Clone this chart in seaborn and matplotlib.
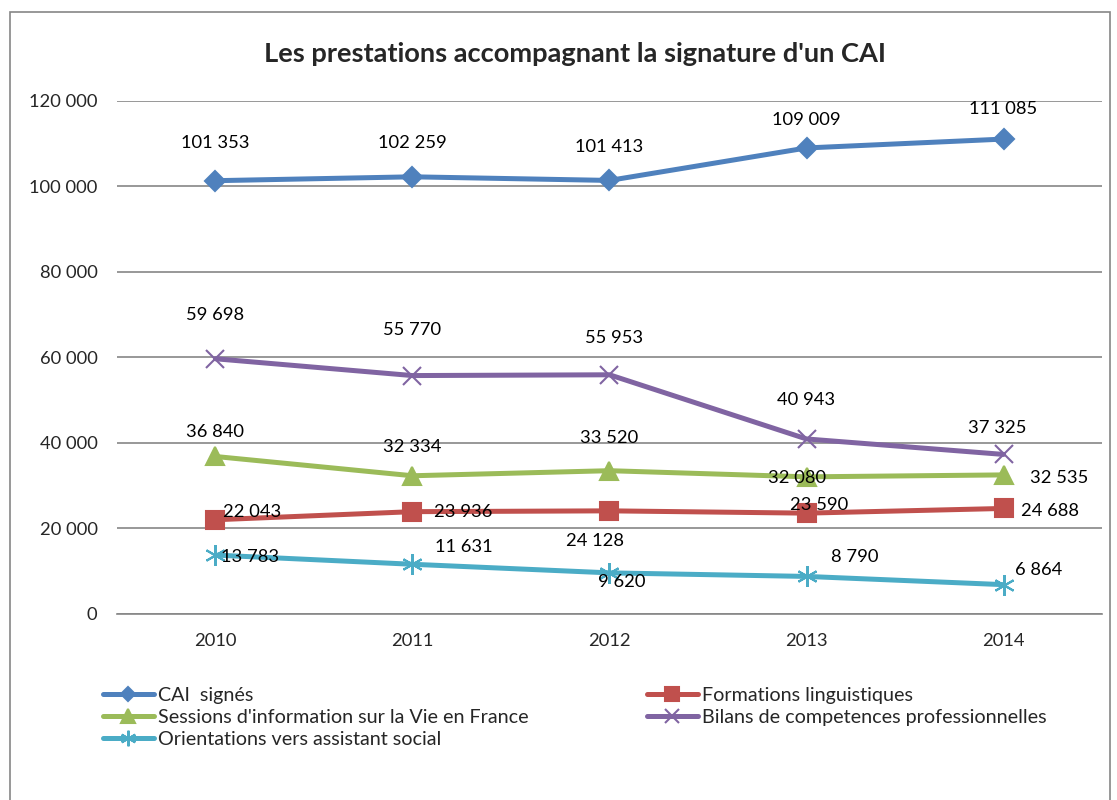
import matplotlib
matplotlib.use("Agg")
import matplotlib.pyplot as plt
import matplotlib.patches as mpatches
import pandas as pd
import seaborn as sns

years = ["2010", "2011", "2012", "2013", "2014"]
series_names = [
    "CAI  signés",
    "Formations linguistiques",
    "Sessions d'information sur la Vie en France",
    "Bilans de competences professionnelles",
    "Orientations vers assistant social",
]
cai_signes = [101353, 102259, 101413, 109009, 111085]
formations = [22043, 23936, 24128, 23590, 24688]
sessions = [36840, 32334, 33520, 32080, 32535]
bilans = [59698, 55770, 55953, 40943, 37325]
orientations = [13783, 11631, 9620, 8790, 6864]
all_values = [cai_signes, formations, sessions, bilans, orientations]

colors = ["#4F81BD", "#C0504D", "#9BBB59", "#8064A2", "#4BACC6"]
markers = ["D", "s", "^", "x", (6, 2, 0)]
marker_sizes = [10, 13, 13, 13, 15]
# data label offsets in pixels (dx, dy), like the hand-moved Excel labels
label_offsets = [
    [(0, 38), (0, 34), (0, 33), (0, 28), (0, 30)],
    [(37, 8), (51, 0), (-14, -30), (13, 8), (46, -3)],
    [(0, 24), (0, 29), (0, 33), (-9, -1), (56, -3)],
    [(0, 44), (0, 46), (5, 37), (0, 39), (-6, 26)],
    [(35, -2), (51, 17), (12, -9), (48, 19), (35, 15)],
]

df = pd.concat(
    [pd.DataFrame({"year": years, "value": vals, "serie": name})
     for name, vals in zip(series_names, all_values)],
    ignore_index=True,
)

sns.set_style("white")
plt.rcParams["font.family"] = ["Lato", "DejaVu Sans"]


def fmt(v):
    return f"{v:,.0f}".replace(",", " ")


fig = plt.figure(figsize=(11.17, 8), dpi=100)
ax = fig.add_axes([0.1047, 0.2325, 0.8819, 0.6413])

handles = {}
for name, color, marker, ms, offs in zip(series_names, colors, markers, marker_sizes, label_offsets):
    sub = df[df["serie"] == name]
    sns.lineplot(data=sub, x="year", y="value", ax=ax, color=color, linewidth=3.6,
                 marker=marker, markersize=ms, markeredgecolor=color,
                 markeredgewidth=1.5, sort=False, legend=False)
    handles[name] = ax.lines[-1]
    for i, (v, (dx, dy)) in enumerate(zip(sub["value"], offs)):
        ax.annotate(fmt(v), (i, v), xytext=(dx, dy), textcoords="offset pixels",
                    ha="center", va="center", fontsize=13.2, color="black")

ax.set_xlim(-0.5, 4.5)
ax.set_ylim(0, 120000)
ax.set_yticks(range(0, 120001, 20000))
ax.set_yticklabels([fmt(t) for t in range(0, 120001, 20000)])
ax.yaxis.grid(True, color="#868686", linewidth=1.2)
ax.set_axisbelow(True)
for s in ["top", "right", "left"]:
    ax.spines[s].set_visible(False)
ax.spines["bottom"].set_color("#868686")
ax.spines["bottom"].set_linewidth(1.2)
ax.tick_params(axis="both", length=0, labelsize=13.2)
ax.tick_params(axis="x", pad=14)
ax.tick_params(axis="y", pad=14)
ax.set_xlabel("")
ax.set_ylabel("")

fig.text(0.515, 0.933, "Les prestations accompagnant la signature d'un CAI",
         ha="center", va="center", fontsize=19.6, fontweight="bold")

order = [series_names[i] for i in (0, 2, 4, 1, 3)]
leg = fig.legend([handles[n] for n in order], order, ncol=2,
                 loc="upper left", bbox_to_anchor=(0.076, 0.164),
                 frameon=False, fontsize=14.2, handlelength=2.6,
                 handletextpad=0.2, labelspacing=0.26, columnspacing=6.0,
                 markerscale=0.75)

fig.add_artist(mpatches.Rectangle((0.009, -0.01), 0.985, 0.995, transform=fig.transFigure,
                                  fill=False, edgecolor="#868686", linewidth=1.2))

fig.savefig("out.png", dpi=100)
